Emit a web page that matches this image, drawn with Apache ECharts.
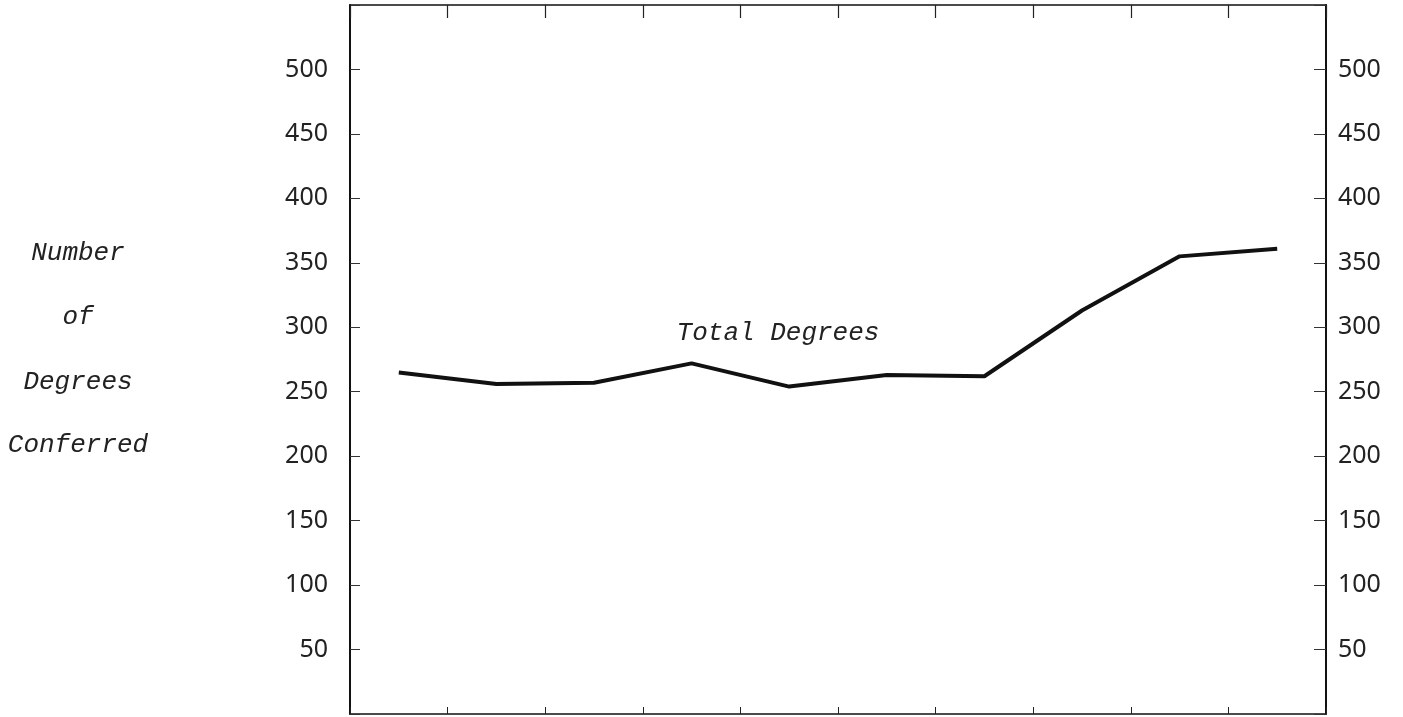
<!DOCTYPE html>
<html>
<head>
<meta charset="utf-8">
<script src="https://cdn.jsdelivr.net/npm/echarts@6/dist/echarts.min.js"></script>
<style>html,body{margin:0;padding:0;background:#fff;}#c{width:1403px;height:717px;}</style>
</head>
<body>
<div id="c"></div>
<script>
const categories = ['P1','P2','P3','P4','P5','P6','P7','P8','P9','P10'];
const totalDegrees = [265, 256, 257, 272, 254, 263, 262, 313, 355, 361];
const yTicks = [50, 100, 150, 200, 250, 300, 350, 400, 450, 500];
const yTitleLines = ['Number', 'of', 'Degrees', 'Conferred'];
const seriesLabel = 'Total Degrees';

const chart = echarts.init(document.getElementById('c'));
const lblFmt = v => (yTicks.indexOf(v) >= 0 ? String(v) : '');
const monoFont = '"Liberation Mono", "DejaVu Sans Mono", monospace';
const yTitleY = [253, 317, 382, 445];

chart.setOption({
  animation: false,
  backgroundColor: '#fff',
  grid: { left: 350, right: 77, top: 5, bottom: 3, containLabel: false },
  xAxis: [
    { type: 'category', data: categories, position: 'bottom', boundaryGap: true, show: true,
      axisLine: { show: true, lineStyle: { color: '#111', width: 1.5 } },
      axisTick: { show: true, inside: true, length: 7, lineStyle: { color: '#222', width: 1 } },
      axisLabel: { show: false }, splitLine: { show: false } },
    { type: 'category', data: categories, position: 'top', boundaryGap: true, show: true,
      axisLine: { show: true, onZero: false, lineStyle: { color: '#111', width: 1.5 } },
      axisTick: { show: true, inside: true, length: 13, lineStyle: { color: '#222', width: 1.2 } },
      axisLabel: { show: false }, splitLine: { show: false } }
  ],
  yAxis: [
    { type: 'value', position: 'left', min: 0, max: 550, interval: 50,
      axisLine: { show: true, lineStyle: { color: '#111', width: 2 } },
      axisTick: { show: true, inside: true, length: 10, lineStyle: { color: '#333', width: 1 } },
      axisLabel: { formatter: lblFmt, margin: 22, fontSize: 25, color: '#222', fontFamily: '"Noto Sans", sans-serif' },
      splitLine: { show: false } },
    { type: 'value', position: 'right', min: 0, max: 550, interval: 50,
      axisLine: { show: true, lineStyle: { color: '#111', width: 2 } },
      axisTick: { show: true, inside: true, length: 12, lineStyle: { color: '#333', width: 1 } },
      axisLabel: { formatter: lblFmt, margin: 12, fontSize: 25, color: '#222', fontFamily: '"Noto Sans", sans-serif' },
      splitLine: { show: false } }
  ],
  series: [{
    name: seriesLabel, type: 'line', data: totalDegrees, xAxisIndex: 0, yAxisIndex: 0,
    symbol: 'none', smooth: false,
    lineStyle: { color: '#111', width: 4 }
  }, {
    name: seriesLabel + ' (top axis)', type: 'line', data: totalDegrees, xAxisIndex: 1, yAxisIndex: 1,
    symbol: 'none', silent: true, lineStyle: { opacity: 0 }
  }],
  graphic: yTitleLines.map((t, i) => ({
    type: 'text', x: 78, y: yTitleY[i],
    style: { text: t, font: 'italic 26px ' + monoFont, fill: '#222', align: 'center', verticalAlign: 'middle' }
  })).concat([{
    type: 'text', x: 778, y: 333,
    style: { text: seriesLabel, font: 'italic 26px ' + monoFont, fill: '#222', align: 'center', verticalAlign: 'middle' }
  }])
});
</script>
</body>
</html>
